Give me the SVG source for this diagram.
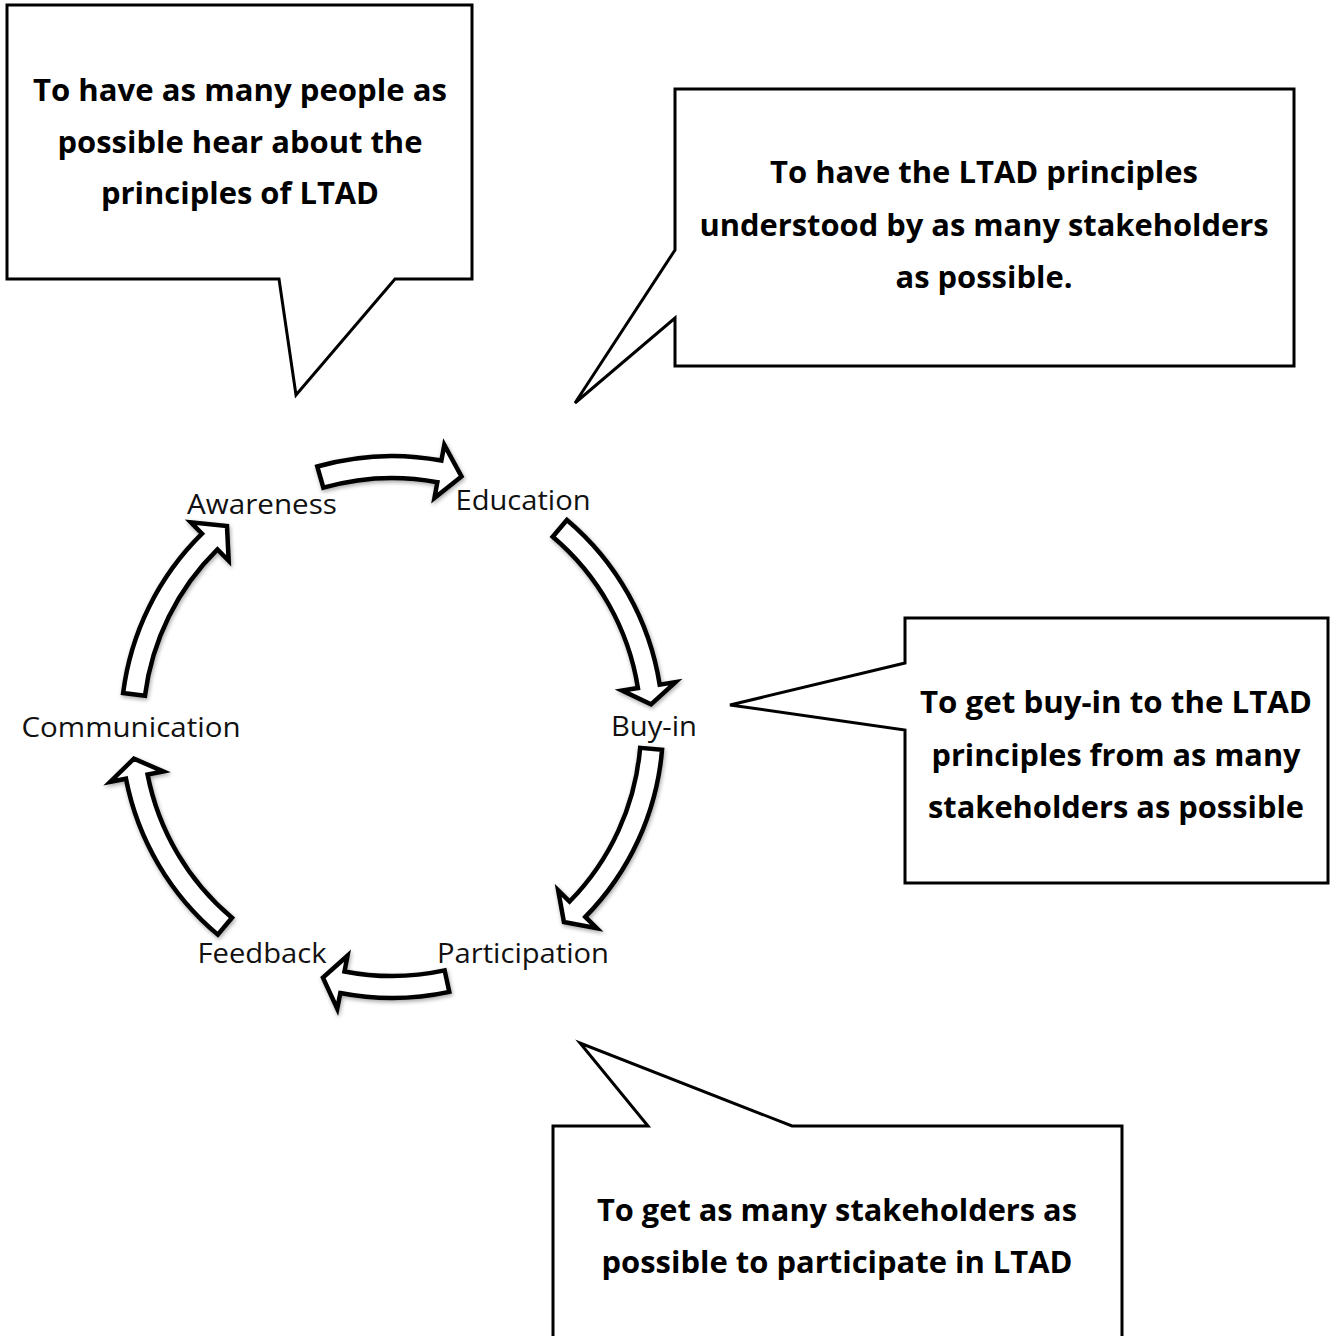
<svg xmlns="http://www.w3.org/2000/svg" width="1339" height="1336" viewBox="0 0 1339 1336">
<style>
.callout{fill:#fff;stroke:#000;stroke-width:3;stroke-linejoin:miter}
.ct{font-family:"Open Sans","Noto Sans","Liberation Sans",sans-serif;font-weight:700;font-size:30px;fill:#000;text-anchor:middle;font-variant-ligatures:none}
.lbl{font-family:"Open Sans","Noto Sans","Liberation Sans",sans-serif;font-weight:400;font-size:27px;fill:#111;text-anchor:middle;font-variant-ligatures:none}
.arr{fill:#fff;stroke:#000;stroke-width:4.5;stroke-linejoin:miter;filter:url(#sh)}
</style>
<defs>
<filter id="sh" x="-20%" y="-20%" width="140%" height="140%">
<feGaussianBlur in="SourceAlpha" stdDeviation="2"/>
<feOffset dx="1" dy="2" result="b"/>
<feComponentTransfer><feFuncA type="linear" slope="0.35"/></feComponentTransfer>
<feMerge><feMergeNode/><feMergeNode in="SourceGraphic"/></feMerge>
</filter>
</defs>
<rect width="1339" height="1336" fill="#fff"/>

<g id="callout-awareness">
<path class="callout" d="M7,5 H472 V279 H395 L296,395 L279,279 H7 Z"/>
<text class="ct" x="240" y="101" textLength="414" lengthAdjust="spacingAndGlyphs">To have as many people as</text>
<text class="ct" x="240" y="153" textLength="365" lengthAdjust="spacingAndGlyphs">possible hear about the</text>
<text class="ct" x="240" y="204" textLength="278" lengthAdjust="spacingAndGlyphs">principles of LTAD</text>
</g>

<g id="callout-education">
<path class="callout" d="M675,89 H1294 V366 H675 V318 L575,403 L675,250 Z"/>
<text class="ct" x="984" y="183" textLength="428" lengthAdjust="spacingAndGlyphs">To have the LTAD principles</text>
<text class="ct" x="984" y="236" textLength="569" lengthAdjust="spacingAndGlyphs">understood by as many stakeholders</text>
<text class="ct" x="984" y="288" textLength="177" lengthAdjust="spacingAndGlyphs">as possible.</text>
</g>

<g id="callout-buyin">
<path class="callout" d="M905,618 H1328 V883 H905 V730 L730,705 L905,663 Z"/>
<text class="ct" x="1116" y="713" textLength="392" lengthAdjust="spacingAndGlyphs">To get buy-in to the LTAD</text>
<text class="ct" x="1116" y="766" textLength="369" lengthAdjust="spacingAndGlyphs">principles from as many</text>
<text class="ct" x="1116" y="818" textLength="376" lengthAdjust="spacingAndGlyphs">stakeholders as possible</text>
</g>

<g id="callout-participation">
<path class="callout" d="M553,1126 H648 L580,1043 L792,1126 H1122 V1345 H553 Z"/>
<text class="ct" x="837" y="1221" textLength="480" lengthAdjust="spacingAndGlyphs">To get as many stakeholders as</text>
<text class="ct" x="837" y="1273" textLength="471" lengthAdjust="spacingAndGlyphs">possible to participate in LTAD</text>
</g>

<g id="connectors">
<path class="arr" d="M317.30,466.50 A271,271 0 0 1 441.39,460.54 L444.30,444.81 L461.48,476.46 L434.46,497.90 L437.38,482.17 A249,249 0 0 0 323.37,487.65 Z"/>
<path class="arr" d="M566.92,520.01 A271,271 0 0 1 659.66,684.61 L675.47,682.10 L651.01,704.34 L622.13,690.55 L637.93,688.05 A249,249 0 0 0 552.72,536.81 Z"/>
<path class="arr" d="M662.05,749.68 A271,271 0 0 1 585.29,916.95 L596.70,928.16 L563.94,922.03 L558.19,890.31 L569.60,901.53 A249,249 0 0 0 640.13,747.84 Z"/>
<path class="arr" d="M449.27,991.88 A271,271 0 0 1 340.29,993.02 L337.24,1008.73 L322.95,977.67 L347.54,955.72 L344.49,971.43 A249,249 0 0 0 444.62,970.38 Z"/>
<path class="arr" d="M217.80,934.60 A271,271 0 0 1 125.98,778.71 L110.27,781.76 L133.94,758.69 L163.28,771.46 L147.57,774.51 A249,249 0 0 0 231.95,917.74 Z"/>
<path class="arr" d="M123.14,693.04 A271,271 0 0 1 202.05,533.71 L190.84,522.30 L226.98,526.08 L228.69,560.81 L217.47,549.40 A249,249 0 0 0 144.96,695.79 Z"/>
</g>

<g id="node-awareness"><text class="lbl" x="262" y="514" textLength="150" lengthAdjust="spacingAndGlyphs">Awareness</text></g>
<g id="node-education"><text class="lbl" x="523" y="510" textLength="135" lengthAdjust="spacingAndGlyphs">Education</text></g>
<g id="node-buyin"><text class="lbl" x="654" y="736" textLength="86" lengthAdjust="spacingAndGlyphs">Buy-in</text></g>
<g id="node-participation"><text class="lbl" x="523" y="963" textLength="172" lengthAdjust="spacingAndGlyphs">Participation</text></g>
<g id="node-feedback"><text class="lbl" x="262" y="963" textLength="129" lengthAdjust="spacingAndGlyphs">Feedback</text></g>
<g id="node-communication"><text class="lbl" x="131" y="737" textLength="219" lengthAdjust="spacingAndGlyphs">Communication</text></g>
</svg>
